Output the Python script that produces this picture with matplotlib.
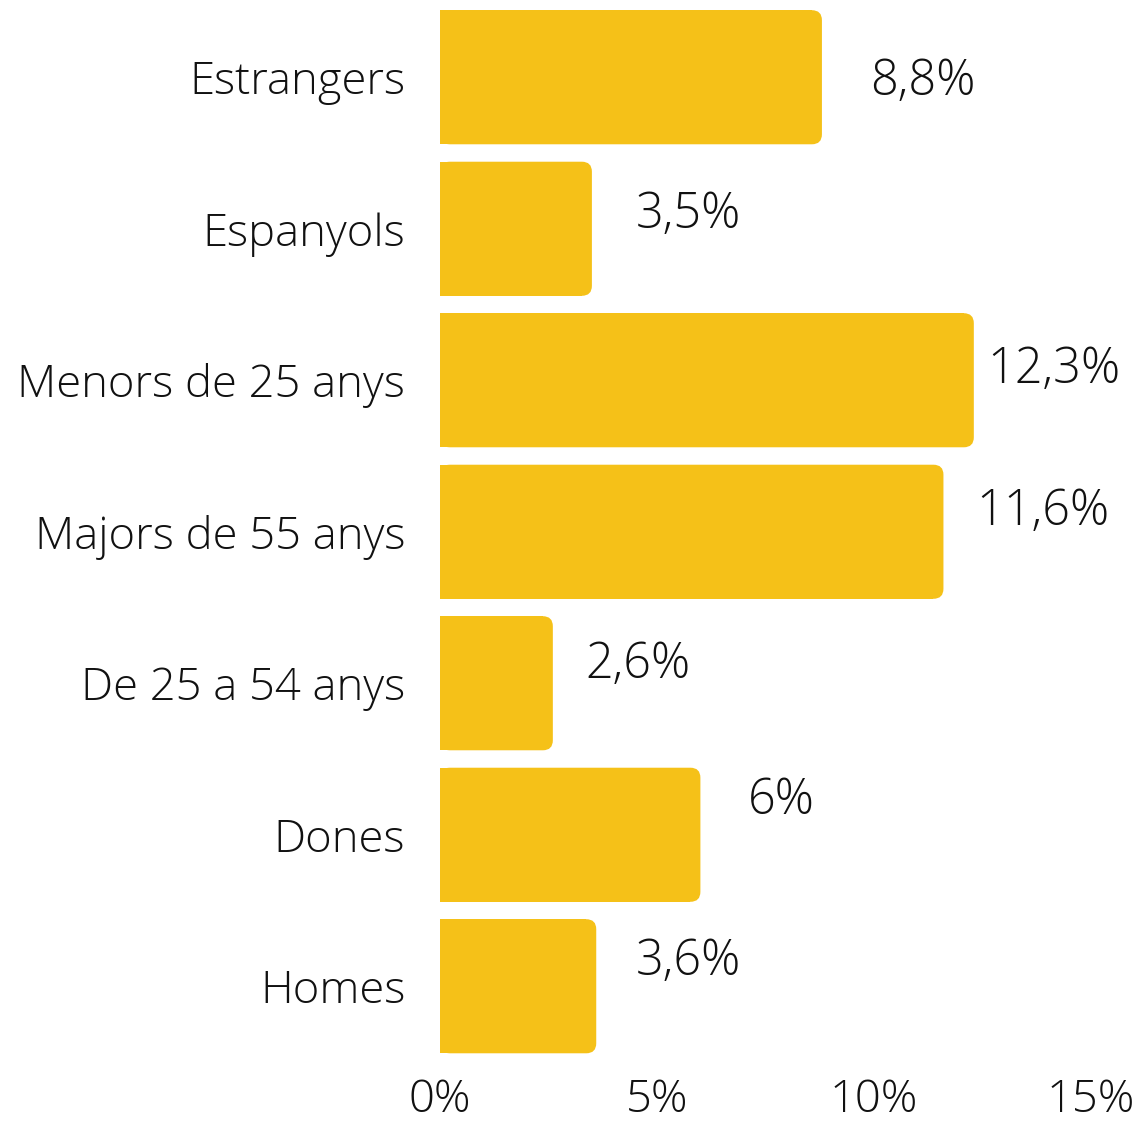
import matplotlib
matplotlib.use('Agg')
import matplotlib.pyplot as plt
from matplotlib.patches import FancyBboxPatch

categories = ["Estrangers", "Espanyols", "Menors de 25 anys", "Majors de 55 anys",
              "De 25 a 54 anys", "Dones", "Homes"]
values = [8.8, 3.5, 12.3, 11.6, 2.6, 6.0, 3.6]
value_labels = ["8,8%", "3,5%", "12,3%", "11,6%", "2,6%", "6%", "3,6%"]
xticks = [0, 5, 10, 15]
xtick_labels = ["0%", "5%", "10%", "15%"]

# label placement tweaks (x gap in %, y shift in bar units)
label_dx = [1.1, 1.0, 0.3, 0.75, 0.75, 1.1, 0.9]
label_dy = [0.03, -0.09, -0.07, -0.13, -0.12, -0.22, -0.16]

color = "#F5C118"
plt.rcParams['font.family'] = ['Open Sans', 'DejaVu Sans']

W, H = 1139, 1122
top, bottom = 1.5, 1062
fig = plt.figure(figsize=(W / 100, H / 100), dpi=100)
ax = fig.add_axes([440 / W, 1 - bottom / H, (1091 - 440) / W, (bottom - top) / H])

ypos = list(range(len(categories)))
bars = ax.barh(ypos, values, height=0.885, color=color)
ax.set_xlim(0, 15)
ax.set_ylim(len(categories) - 0.5, -0.5)

# rounded right corners: shorten the plain bar and lay a rounded box on top
r = 0.23
px_per_x = (1091 - 440) / 15
px_per_y = (bottom - top) / len(categories)
aspect = px_per_x / px_per_y
for b in bars:
    x0, y0, w, h = b.get_x(), b.get_y(), b.get_width(), b.get_height()
    b.set_width(w - r)
    fb = FancyBboxPatch((x0, y0), w, h, boxstyle="round,pad=0,rounding_size=%f" % r,
                        mutation_aspect=aspect, facecolor=color, edgecolor='none')
    ax.add_patch(fb)

for i, (v, lab) in enumerate(zip(values, value_labels)):
    ax.text(v + label_dx[i], i + label_dy[i], lab, va='center', ha='left',
            fontsize=35, fontweight='light', color='#111111')

ax.set_yticks(ypos)
ax.set_yticklabels(categories, fontsize=32.7, fontweight='light', color='#111111')
ax.set_xticks(xticks)
ax.set_xticklabels(xtick_labels, fontsize=32.7, fontweight='light', color='#111111')
ax.tick_params(length=0)
ax.tick_params(axis='y', pad=25)
ax.tick_params(axis='x', pad=12)
for s in ax.spines.values():
    s.set_visible(False)

fig.savefig('out.png', dpi=100)
